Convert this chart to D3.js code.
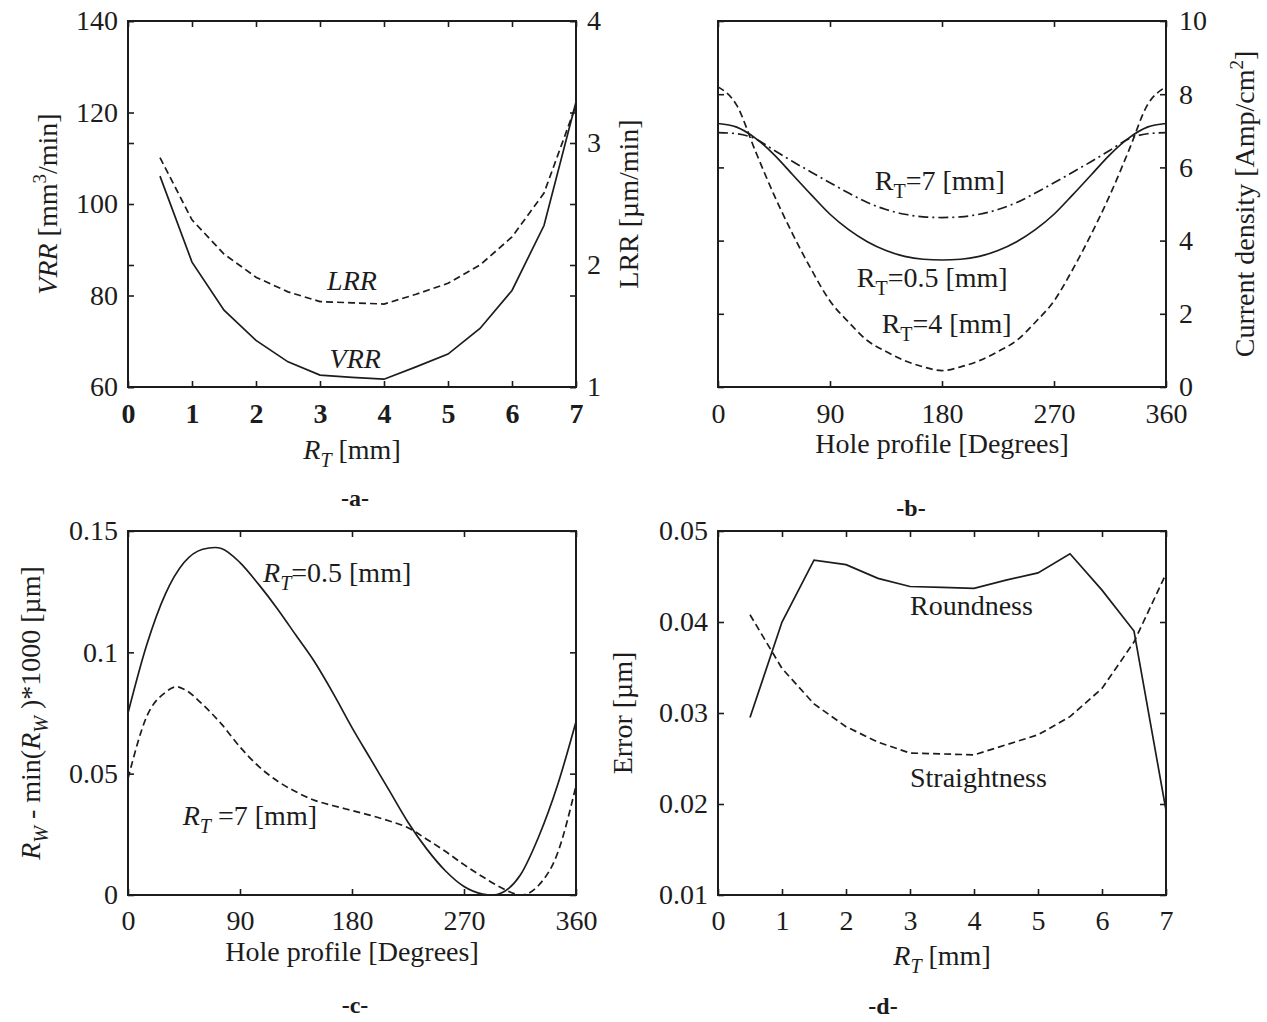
<!DOCTYPE html>
<html lang="en">
<head>
  <meta charset="UTF-8">
  <title>ECM hole profile – four panels</title>
  <script src="https://d3js.org/d3.v7.min.js"></script>
  <style>
    body { margin: 0; background: #fff; }
    svg text { font-family: "Liberation Serif", "Times New Roman", serif; fill: #1c1c1c; }
  </style>
</head>
<body>
  <svg id="fig" width="1267" height="1022"></svg>

  <script>
    // ---- data ----
    // (a) removal rates vs tool radius
    const rtValues = [0.5, 1, 1.5, 2, 2.5, 3, 3.5, 4, 4.5, 5, 5.5, 6, 6.5, 7];
    const vrrValues = [106.1, 87.3, 76.8, 70.2, 65.5, 62.6, 62.1, 61.7, 64.4, 67.2, 72.8, 81.1, 95.3, 122.3];
    const lrrValues = [2.88, 2.37, 2.09, 1.90, 1.78, 1.70, 1.69, 1.68, 1.76, 1.85, 2.00, 2.23, 2.59, 3.31];

    // (b) current density around the hole
    const degSteps = [0, 15, 30, 45, 60, 75, 90, 105, 120, 135, 150, 165, 180,
                      195, 210, 225, 240, 255, 270, 285, 300, 315, 330, 345, 360];
    const cdR05 = [7.2, 7.1, 6.8, 6.35, 5.8, 5.25, 4.72, 4.3, 3.97, 3.73, 3.57, 3.49, 3.47,
                   3.49, 3.57, 3.73, 3.97, 4.3, 4.72, 5.25, 5.8, 6.35, 6.8, 7.1, 7.2];
    const cdR7  = [6.95, 6.92, 6.78, 6.47, 6.16, 5.87, 5.58, 5.3, 5.04, 4.85, 4.72, 4.65, 4.63,
                   4.65, 4.72, 4.85, 5.04, 5.3, 5.58, 5.87, 6.16, 6.47, 6.78, 6.92, 6.95];
    const cdR4  = [8.2, 7.7, 6.45, 5.25, 4.18, 3.21, 2.35, 1.77, 1.27, 0.97, 0.72, 0.55, 0.45,
                   0.55, 0.72, 0.97, 1.27, 1.77, 2.35, 3.21, 4.18, 5.25, 6.45, 7.7, 8.2];

    // (c) hole radius deviation
    const devDegR05 = [0, 15, 30, 45, 60, 70, 75, 90, 105, 120, 135, 150, 165, 180, 195,
                       210, 225, 240, 255, 270, 285, 293, 300, 315, 330, 345, 360];
    const devR05 = [0.075, 0.103, 0.124, 0.137, 0.1425, 0.1432, 0.1428, 0.137, 0.128, 0.118,
                    0.107, 0.096, 0.083, 0.069, 0.056, 0.043, 0.030, 0.019, 0.010, 0.0035,
                    0.0004, 0, 0.0008, 0.008, 0.024, 0.045, 0.0714];
    const devDegR7 = [0, 15, 30, 39, 45, 60, 75, 90, 105, 120, 135, 150, 165, 180, 195,
                      210, 225, 240, 255, 270, 285, 300, 316, 330, 345, 360];
    const devR7 = [0.048, 0.0735, 0.0835, 0.0858, 0.0848, 0.0785, 0.0705, 0.061, 0.053, 0.047,
                   0.0425, 0.039, 0.0368, 0.0348, 0.0328, 0.0305, 0.0277, 0.023, 0.018, 0.0125,
                   0.0075, 0.003, 0, 0.004, 0.017, 0.045];

    // (d) form errors vs tool radius
    const roundness    = [0.0295, 0.0400, 0.0468, 0.0463, 0.0448, 0.0439, 0.0438, 0.0437,
                          0.0446, 0.0454, 0.0475, 0.0435, 0.0390, 0.0193];
    const straightness = [0.0408, 0.0349, 0.0310, 0.0285, 0.0268, 0.0256, 0.0255, 0.0254,
                          0.0265, 0.0276, 0.0296, 0.0327, 0.0378, 0.0453];

    // tick values
    const rtTicks  = [0, 1, 2, 3, 4, 5, 6, 7];
    const degTicks = [0, 90, 180, 270, 360];
    const vrrTicks = [60, 80, 100, 120, 140];
    const lrrTicks = [1, 2, 3, 4];
    const cdTicks  = [0, 2, 4, 6, 8, 10];
    const devTicks = [0, 0.05, 0.1, 0.15];
    const errTicks = [0.01, 0.02, 0.03, 0.04, 0.05];

    const svg = d3.select("#fig");
    const INK = "#1c1c1c";
    const FS = 28;
    const DASH = "7,4";
    const DASHDOT = "10,4,2,4";

    // plot box of one panel
    function makePanel(left, top, w, h) {
      const g = svg.append("g").attr("transform", `translate(${left},${top})`);
      return { g, w, h };
    }

    // inward ticks; labels optional
    function addAxis(p, axisFn, scale, ticks, opts = {}) {
      const ax = axisFn(scale).tickValues(ticks).tickSize(-6)
        .tickPadding(opts.pad || 10)
        .tickFormat(opts.labels ? (opts.fmt || d3.format("")) : "");
      const sel = p.g.append("g").attr("transform", opts.shift || null).call(ax);
      sel.select(".domain").remove();
      sel.selectAll("line").attr("stroke", INK).attr("stroke-width", 1.6);
      sel.selectAll("text")
        .attr("fill", INK)
        .style("font-size", FS + "px")
        .style("font-weight", opts.bold ? "bold" : "normal");
      return sel;
    }

    function frame(p) {
      p.g.append("rect")
        .attr("width", p.w).attr("height", p.h)
        .attr("fill", "none").attr("stroke", INK).attr("stroke-width", 2);
    }

    function drawLine(p, xs, ys, x, y, dash, curve) {
      const line = d3.line()
        .x((d, i) => x(xs[i]))
        .y(d => y(d))
        .curve(curve || d3.curveLinear);
      p.g.append("path")
        .datum(ys)
        .attr("d", line)
        .attr("fill", "none")
        .attr("stroke", INK)
        .attr("stroke-width", 1.7)
        .attr("stroke-dasharray", dash || null);
    }

    // rich text made of [text, style] parts; style: i italic, sub, sup
    function richText(parent, parts, attrs) {
      const t = parent.append("text");
      Object.entries(attrs).forEach(([k, v]) => t.attr(k, v));
      t.style("font-size", FS + "px");
      let shift = 0;
      parts.forEach(([txt, st = ""]) => {
        const ts = t.append("tspan").text(txt);
        let target = 0;
        if (st.includes("sub")) { target = 8; ts.style("font-size", "20px"); }
        if (st.includes("sup")) { target = -11; ts.style("font-size", "19px"); }
        if (target !== shift) { ts.attr("dy", target - shift); shift = target; }
        if (st.includes("i")) ts.style("font-style", "italic");
      });
      return t;
    }

    function yTitle(x, y, parts) {
      richText(svg, parts, {
        "text-anchor": "middle",
        transform: `translate(${x},${y}) rotate(-90)`
      });
    }

    function panelTag(x, y, txt) {
      svg.append("text").attr("x", x).attr("y", y)
        .attr("text-anchor", "middle")
        .style("font-size", "24px").style("font-weight", "bold")
        .text(txt);
    }

    // ================= (a) =================
    {
      const p = makePanel(128, 21, 448, 366);
      const x = d3.scaleLinear().domain([0, 7]).range([0, p.w]);
      const yL = d3.scaleLinear().domain([60, 140]).range([p.h, 0]);
      const yR = d3.scaleLinear().domain([1, 4]).range([p.h, 0]);

      addAxis(p, d3.axisBottom, x, rtTicks, { labels: true, bold: true, pad: 16, shift: `translate(0,${p.h})` });
      addAxis(p, d3.axisTop, x, rtTicks);
      addAxis(p, d3.axisLeft, yL, vrrTicks, { labels: true });
      addAxis(p, d3.axisRight, yL, vrrTicks, { shift: `translate(${p.w},0)` });
      addAxis(p, d3.axisRight, yR, lrrTicks, { labels: true, pad: 11, shift: `translate(${p.w},0)` });
      addAxis(p, d3.axisLeft, yR, lrrTicks);

      drawLine(p, rtValues, vrrValues, x, yL);
      drawLine(p, rtValues, lrrValues, x, yR, DASH);
      frame(p);

      richText(p.g, [["LRR", "i"]], { x: x(3.5), y: yL(81.2), "text-anchor": "middle" });
      richText(p.g, [["VRR", "i"]], { x: x(3.55), y: yL(64.2), "text-anchor": "middle" });

      richText(svg, [["R", "i"], ["T", "i sub"], [" [mm]"]],
        { x: 128 + p.w / 2, y: 21 + p.h + 72, "text-anchor": "middle" });
      yTitle(57, 21 + p.h / 2, [["VRR", "i"], [" [mm"], ["3", "sup"], ["/min]"]]);
      yTitle(638, 21 + p.h / 2, [["LRR [µm/min]"]]);
      panelTag(355, 506, "-a-");
    }

    // ================= (b) =================
    {
      const p = makePanel(718, 21, 448, 366);
      const x = d3.scaleLinear().domain([0, 360]).range([0, p.w]);
      const y = d3.scaleLinear().domain([0, 10]).range([p.h, 0]);

      addAxis(p, d3.axisBottom, x, degTicks, { labels: true, pad: 16, shift: `translate(0,${p.h})` });
      addAxis(p, d3.axisTop, x, degTicks);
      addAxis(p, d3.axisRight, y, cdTicks, { labels: true, pad: 13, shift: `translate(${p.w},0)` });
      addAxis(p, d3.axisLeft, y, cdTicks);

      drawLine(p, degSteps, cdR7, x, y, DASHDOT, d3.curveMonotoneX);
      drawLine(p, degSteps, cdR05, x, y, null, d3.curveMonotoneX);
      drawLine(p, degSteps, cdR4, x, y, DASH, d3.curveMonotoneX);
      frame(p);

      richText(p.g, [["R"], ["T", "sub"], ["=7 [mm]"]], { x: x(126), y: y(5.38) });
      richText(p.g, [["R"], ["T", "sub"], ["=0.5 [mm]"]], { x: x(111.5), y: y(2.73) });
      richText(p.g, [["R"], ["T", "sub"], ["=4 [mm]"]], { x: x(131.5), y: y(1.48) });

      richText(svg, [["Hole profile [Degrees]"]],
        { x: 718 + p.w / 2, y: 21 + p.h + 66, "text-anchor": "middle" });
      yTitle(1254, 21 + p.h / 2, [["Current density [Amp/cm"], ["2", "sup"], ["]"]]);
      panelTag(911, 516, "-b-");
    }

    // ================= (c) =================
    {
      const p = makePanel(128, 531, 448, 364);
      const x = d3.scaleLinear().domain([0, 360]).range([0, p.w]);
      const y = d3.scaleLinear().domain([0, 0.15]).range([p.h, 0]);

      addAxis(p, d3.axisBottom, x, degTicks, { labels: true, pad: 15, shift: `translate(0,${p.h})` });
      addAxis(p, d3.axisTop, x, degTicks);
      addAxis(p, d3.axisLeft, y, devTicks, { labels: true });
      addAxis(p, d3.axisRight, y, devTicks, { shift: `translate(${p.w},0)` });

      drawLine(p, devDegR05, devR05, x, y, null, d3.curveMonotoneX);
      drawLine(p, devDegR7, devR7, x, y, DASH, d3.curveMonotoneX);
      frame(p);

      richText(p.g, [["R", "i"], ["T", "i sub"], ["=0.5 [mm]"]], { x: x(108.5), y: y(0.129) });
      richText(p.g, [["R", "i"], ["T", "i sub"], [" =7 [mm]"]], { x: x(44), y: y(0.0288) });

      richText(svg, [["Hole profile [Degrees]"]],
        { x: 128 + p.w / 2, y: 531 + p.h + 66, "text-anchor": "middle" });
      yTitle(40, 531 + p.h / 2,
        [["R", "i"], ["W", "i sub"], [" - min("], ["R", "i"], ["W", "i sub"], [" )*1000 [µm]"]]);
      panelTag(355, 1013, "-c-");
    }

    // ================= (d) =================
    {
      const p = makePanel(718, 531, 448, 364);
      const x = d3.scaleLinear().domain([0, 7]).range([0, p.w]);
      const y = d3.scaleLinear().domain([0.01, 0.05]).range([p.h, 0]);

      addAxis(p, d3.axisBottom, x, rtTicks, { labels: true, pad: 15, shift: `translate(0,${p.h})` });
      addAxis(p, d3.axisTop, x, rtTicks);
      addAxis(p, d3.axisLeft, y, errTicks, { labels: true });
      addAxis(p, d3.axisRight, y, errTicks, { shift: `translate(${p.w},0)` });

      drawLine(p, rtValues, roundness, x, y);
      drawLine(p, rtValues, straightness, x, y, DASH);
      frame(p);

      richText(p.g, [["Roundness"]], { x: x(3.0), y: y(0.0408) });
      richText(p.g, [["Straightness"]], { x: x(3.0), y: y(0.0219) });

      richText(svg, [["R", "i"], ["T", "i sub"], [" [mm]"]],
        { x: 718 + p.w / 2, y: 531 + p.h + 70, "text-anchor": "middle" });
      yTitle(632, 531 + p.h / 2, [["Error [µm]"]]);
      panelTag(883, 1014, "-d-");
    }
  </script>
</body>
</html>
